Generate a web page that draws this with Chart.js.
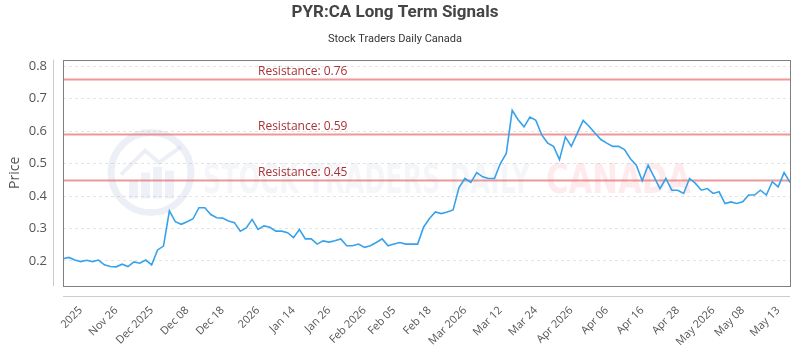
<!DOCTYPE html>
<html>
<head>
<meta charset="utf-8">
<title>PYR:CA Long Term Signals</title>
<script src="https://cdn.jsdelivr.net/npm/chart.js@4.4.1/dist/chart.umd.min.js"></script>
<style>
  html, body { margin: 0; padding: 0; background: #fff; }
  #wrap { width: 800px; height: 350px; }
</style>
</head>
<body>
<div id="wrap"><canvas id="longTerm"></canvas></div>
<script>
// closing prices, one per trading day
const prices = [
  0.207, 0.211, 0.203, 0.198, 0.202, 0.198, 0.203, 0.188, 0.183, 0.182,
  0.190, 0.183, 0.197, 0.193, 0.203, 0.188, 0.234, 0.246, 0.354, 0.321,
  0.313, 0.321, 0.330, 0.364, 0.364, 0.343, 0.333, 0.332, 0.323, 0.318,
  0.292, 0.302, 0.328, 0.297, 0.308, 0.304, 0.292, 0.292, 0.287, 0.272,
  0.297, 0.268, 0.268, 0.252, 0.262, 0.258, 0.262, 0.268, 0.247, 0.247,
  0.252, 0.242, 0.247, 0.257, 0.268, 0.247, 0.252, 0.257, 0.252, 0.252,
  0.252, 0.304, 0.331, 0.351, 0.346, 0.351, 0.357, 0.426, 0.454, 0.442,
  0.472, 0.459, 0.454, 0.454, 0.500, 0.531, 0.664, 0.635, 0.613, 0.643,
  0.633, 0.588, 0.563, 0.553, 0.512, 0.582, 0.553, 0.593, 0.633, 0.615,
  0.594, 0.574, 0.563, 0.553, 0.553, 0.543, 0.515, 0.495, 0.447, 0.495,
  0.459, 0.423, 0.454, 0.418, 0.418, 0.408, 0.454, 0.439, 0.418, 0.423,
  0.408, 0.413, 0.377, 0.382, 0.377, 0.382, 0.403, 0.403, 0.418, 0.403,
  0.444, 0.428, 0.472, 0.442
];

const tickLabels = [
  '2025', 'Nov 26', 'Dec 2025', 'Dec 08', 'Dec 18', '2026', 'Jan 14',
  'Jan 26', 'Feb 2026', 'Feb 05', 'Feb 18', 'Mar 2026', 'Mar 12', 'Mar 24',
  'Apr 2026', 'Apr 06', 'Apr 16', 'Apr 28', 'May 2026', 'May 08', 'May 13'
];
// which trading day each tick label sits on
const tickDays = [3, 9, 15, 21, 27, 33, 39, 45, 51, 56, 62, 68, 74, 80, 86, 92, 98, 104, 110, 115, 121];

const resistance = [0.76, 0.59, 0.45];
const yTicks = [0.2, 0.3, 0.4, 0.5, 0.6, 0.7, 0.8];

const labels = prices.map(() => '');
tickDays.forEach((d, i) => { labels[d] = tickLabels[i]; });

// plot frame, offset axis lines, resistance levels and the faint watermark
const decorations = {
    id: 'decorations',
    beforeDatasetsDraw(chart) {
        const ctx = chart.ctx;
        const a = chart.chartArea;
        const y = chart.scales.y;
        ctx.save();

        // watermark logo
        const cx = a.left + 88, cy = a.top + 113;
        ctx.strokeStyle = 'rgba(150, 170, 205, 0.18)';
        ctx.lineWidth = 7;
        ctx.beginPath();
        ctx.arc(cx, cy, 40, 0, Math.PI * 2);
        ctx.stroke();
        ctx.fillStyle = 'rgba(150, 170, 205, 0.16)';
        [[-22, 8, 18], [-10, 0, 26], [2, -6, 32], [14, -2, 28]].forEach(b => {
            ctx.fillRect(cx + b[0], cy + b[1], 9, b[2]);
        });
        ctx.lineWidth = 4;
        ctx.beginPath();
        ctx.moveTo(cx - 30, cy + 2);
        ctx.lineTo(cx - 6, cy - 22);
        ctx.lineTo(cx + 8, cy - 10);
        ctx.lineTo(cx + 30, cy - 26);
        ctx.stroke();

        // watermark text, squeezed to width
        ctx.font = 'bold 40px "DejaVu Sans Condensed", "DejaVu Sans", sans-serif';
        ctx.textBaseline = 'alphabetic';
        const drawSqueezed = (text, x, w, color) => {
            const m = ctx.measureText(text).width;
            ctx.save();
            ctx.translate(x, a.top + 133);
            ctx.scale(w / m, 1);
            ctx.fillStyle = color;
            ctx.fillText(text, 0, 0);
            ctx.restore();
        };
        drawSqueezed('STOCK TRADERS DAILY', a.left + 140, 327, 'rgba(120, 140, 180, 0.08)');
        drawSqueezed('CANADA', a.left + 483, 145, 'rgba(235, 60, 80, 0.10)');

        // resistance levels
        resistance.forEach(level => {
            const py = Math.round(y.getPixelForValue(level)) + 0.5;
            ctx.strokeStyle = 'rgba(230, 110, 110, 0.7)';
            ctx.lineWidth = 2;
            ctx.beginPath();
            ctx.moveTo(a.left, py);
            ctx.lineTo(a.right, py);
            ctx.stroke();
            ctx.fillStyle = '#a83236';
            ctx.font = '12px "Open Sans", sans-serif';
            ctx.textAlign = 'left';
            ctx.textBaseline = 'bottom';
            ctx.fillText('Resistance: ' + level.toFixed(2), a.left + 195, py - 2);
        });
        ctx.restore();
    },
    afterDraw(chart) {
        const ctx = chart.ctx;
        const a = chart.chartArea;
        ctx.save();
        ctx.lineWidth = 1;
        ctx.strokeStyle = '#808080';
        ctx.strokeRect(Math.round(a.left) + 0.5, Math.round(a.top) + 0.5,
            Math.round(a.right - a.left), Math.round(a.bottom - a.top));
        ctx.strokeStyle = '#cccccc';
        ctx.beginPath();
        ctx.moveTo(Math.round(a.left) - 9.5, a.top);
        ctx.lineTo(Math.round(a.left) - 9.5, a.bottom);
        ctx.moveTo(a.left, Math.round(a.bottom) + 10.5);
        ctx.lineTo(a.right, Math.round(a.bottom) + 10.5);
        ctx.stroke();
        ctx.restore();
    }
};

const ctx = document.getElementById('longTerm');

new Chart(ctx, {
    type: 'line',
    data: {
        labels: labels,
        datasets: [{
            label: 'PYR:CA',
            data: prices,
            borderColor: '#36a2eb',
            backgroundColor: '#36a2eb',
            borderWidth: 1.6,
            pointRadius: 0,
            lineTension: 0,
            fill: false
        }]
    },
    options: {
        responsive: true,
        maintainAspectRatio: false,
        animation: false,
        layout: { padding: { left: 0, right: 10, top: 0, bottom: 0 } },
        plugins: {
            legend: { display: false },
            tooltip: { enabled: false },
            title: {
                display: true,
                text: 'PYR:CA Long Term Signals',
                color: '#444',
                font: { family: 'Roboto', size: 17, weight: 'bold' },
                padding: { top: 3, bottom: 6 }
            },
            subtitle: {
                display: true,
                text: 'Stock Traders Daily Canada',
                color: '#333',
                font: { family: 'Roboto', size: 11 },
                padding: { top: 3, bottom: 14 }
            }
        },
        scales: {
            x: {
                grid: { display: false, drawTicks: false },
                border: { display: false },
                ticks: {
                    autoSkip: false,
                    maxRotation: 45,
                    minRotation: 45,
                    padding: 18,
                    color: '#555',
                    font: { family: 'Open Sans', size: 11 }
                },
                afterFit(s) {
                    s.height = 64;
                    s.paddingLeft = 0;
                    s.paddingRight = 0;
                }
            },
            y: {
                min: 0.123,
                max: 0.82,
                grid: { color: '#e4e4e4', drawTicks: false },
                border: { display: false, dash: [3, 3] },
                ticks: {
                    padding: 16,
                    color: '#555',
                    font: { family: 'Open Sans', size: 13 },
                    callback: v => v.toFixed(1)
                },
                afterBuildTicks(s) { s.ticks = yTicks.map(v => ({ value: v })); },
                title: {
                    display: true,
                    text: 'Price',
                    color: '#555',
                    font: { family: 'Open Sans', size: 14 },
                    padding: { top: 7, bottom: 0 }
                },
                afterFit(s) { s.width = 63; }
            }
        }
    },
    plugins: [decorations]
});
</script>
</body>
</html>
